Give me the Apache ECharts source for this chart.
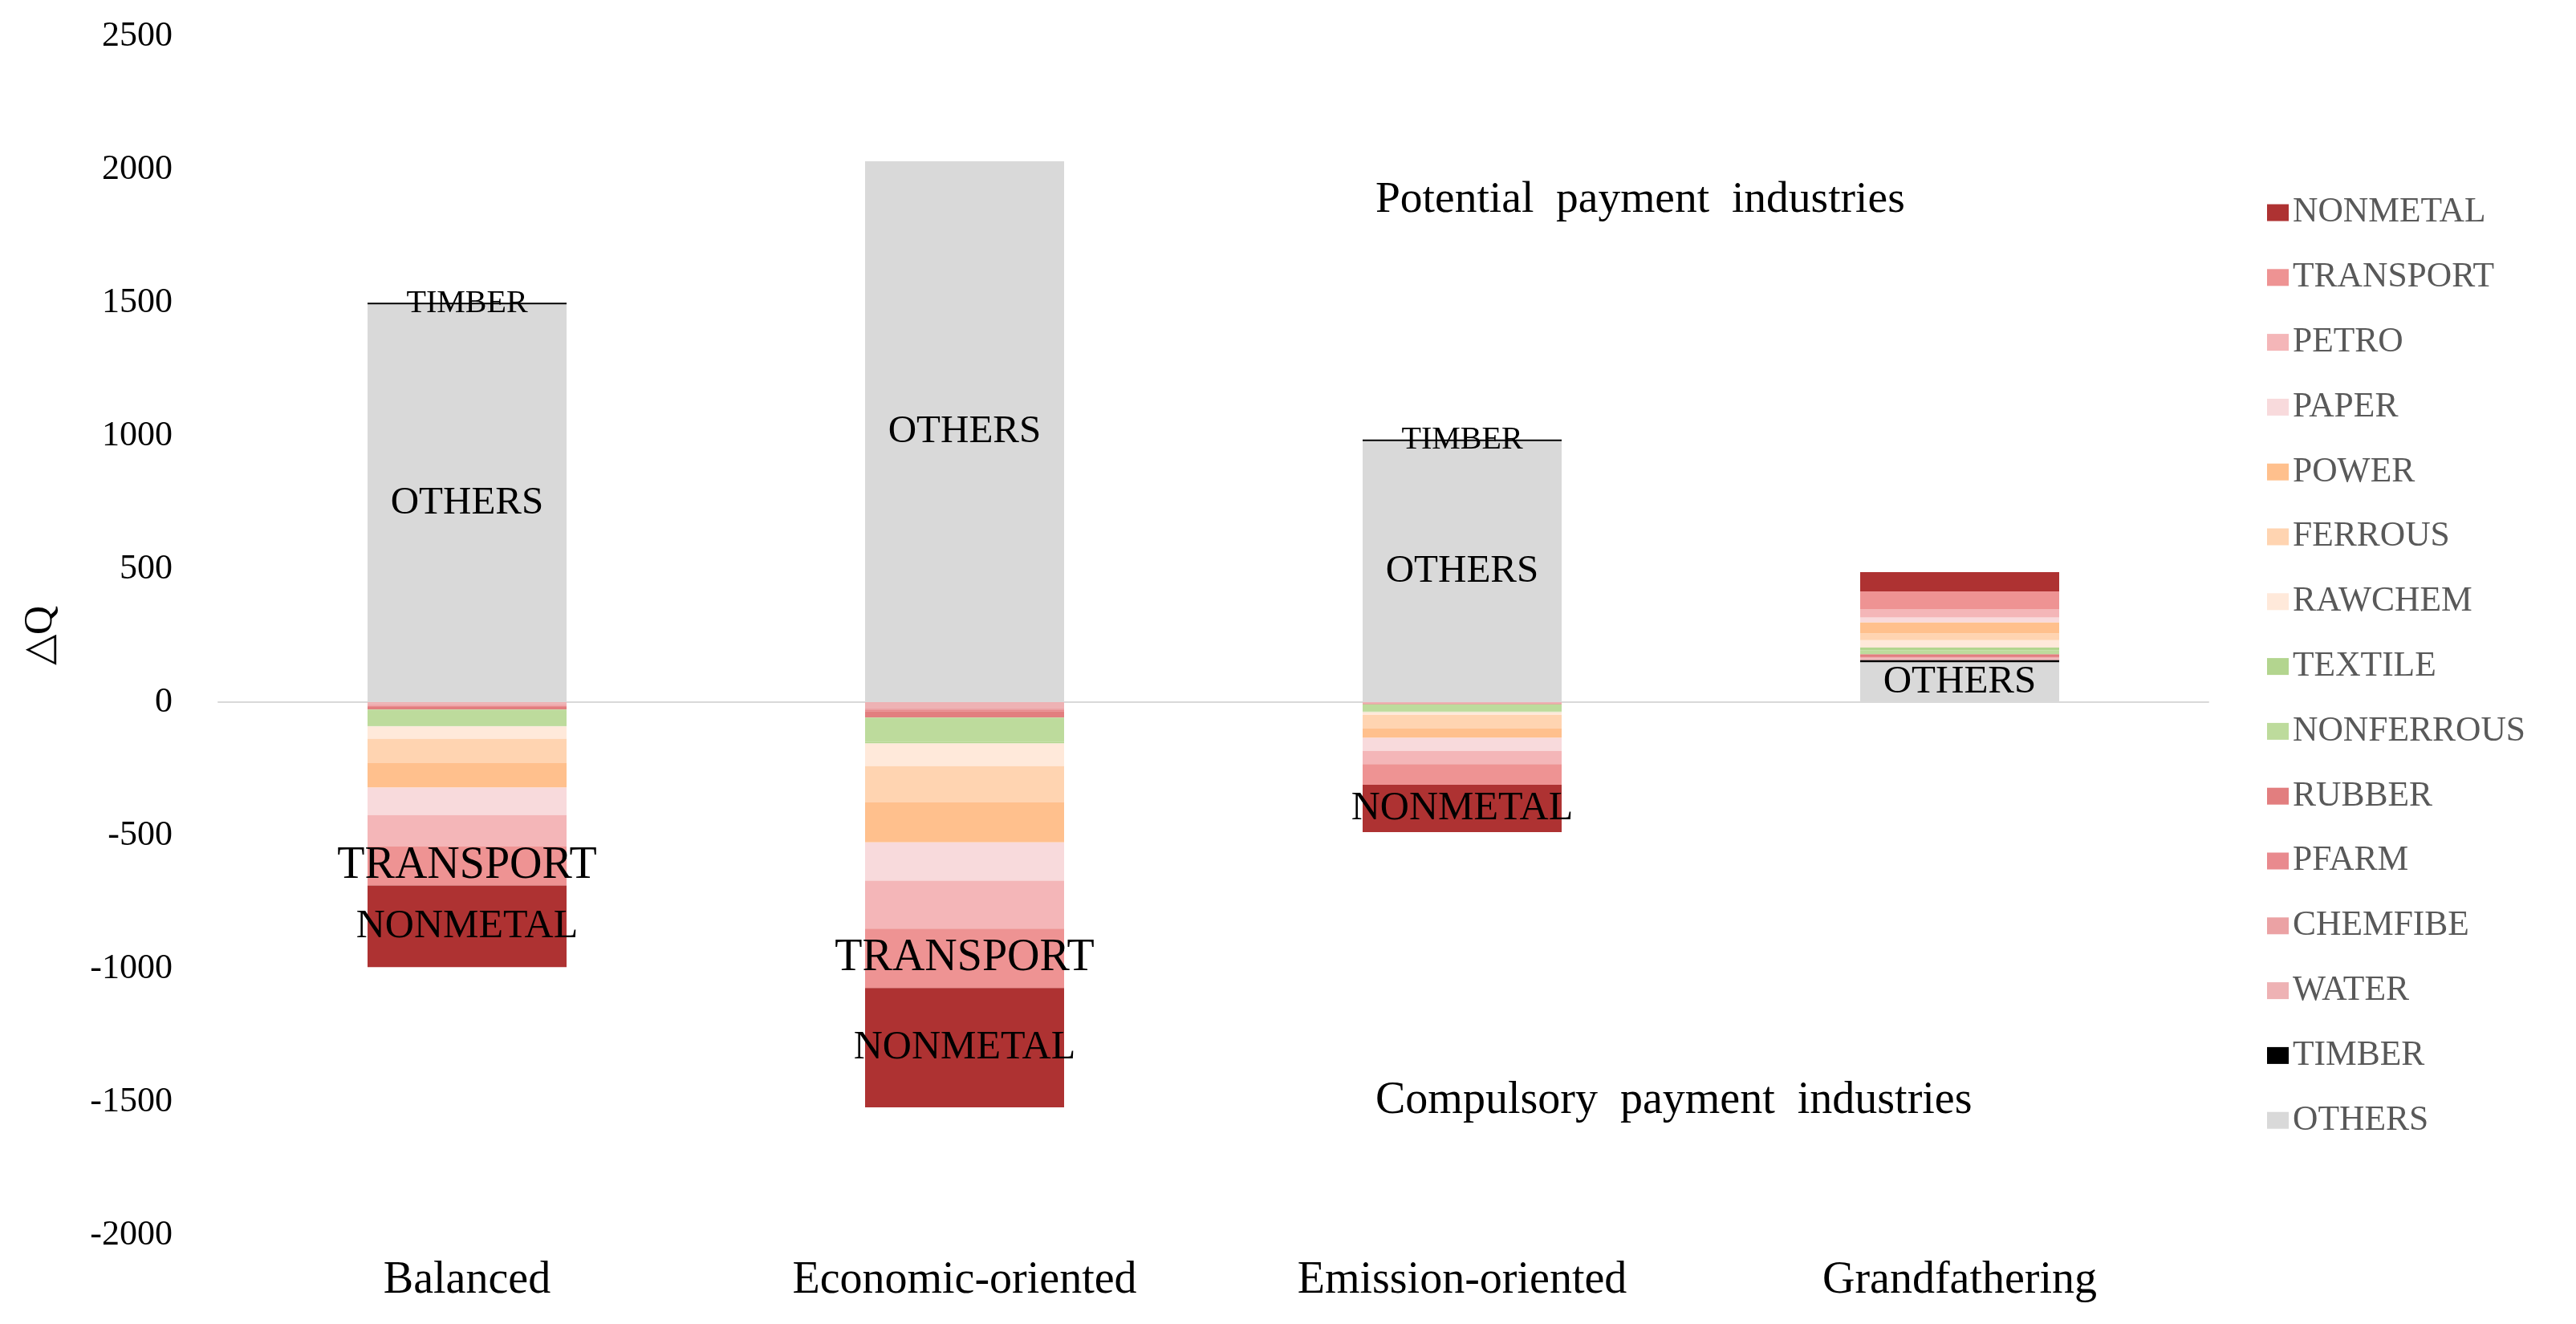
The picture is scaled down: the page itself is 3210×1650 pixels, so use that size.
<!DOCTYPE html>
<html>
<head>
<meta charset="utf-8">
<script src="https://cdn.jsdelivr.net/npm/echarts@6/dist/echarts.min.js"></script>
<style>
html,body{margin:0;padding:0;background:#fff;}
#chart{width:3210px;height:1650px;}
</style>
</head>
<body>
<div id="chart"></div>
<script>
// ---- data ----
var categories = ['Balanced', 'Economic-oriented', 'Emission-oriented', 'Grandfathering'];
var yTicks = { min: -2000, max: 2500, interval: 500 };

// stacking order (bottom/closest to zero first)
var OTHERS     = [1493, 2030, 980, 150];
var TIMBER     = [6, 0, 6, 8];
var WATER      = [-8, -22, -3, 6];
var CHEMFIBE   = [-6, -8, -2, 4];
var PFARM      = [-4, -4, -1, 4];
var RUBBER     = [-10, -24, -2, 8];
var NONFERROUS = [-60, -92, -27, 15];
var TEXTILE    = [-3, -5, -3, 10];
var RAWCHEM    = [-47, -85, -10, 28];
var FERROUS    = [-91, -135, -50, 25];
var POWER      = [-92, -151, -36, 42];
var PAPER      = [-103, -144, -49, 18];
var PETRO      = [-117, -180, -50, 30];
var TRANSPORT  = [-147, -223, -77, 68];
var NONMETAL   = [-307, -448, -178, 72];

var seriesNames = ['OTHERS','TIMBER','WATER','CHEMFIBE','PFARM','RUBBER','NONFERROUS','TEXTILE','RAWCHEM','FERROUS','POWER','PAPER','PETRO','TRANSPORT','NONMETAL'];
var seriesValues = [OTHERS,TIMBER,WATER,CHEMFIBE,PFARM,RUBBER,NONFERROUS,TEXTILE,RAWCHEM,FERROUS,POWER,PAPER,PETRO,TRANSPORT,NONMETAL];
var legendOrder = ['NONMETAL','TRANSPORT','PETRO','PAPER','POWER','FERROUS','RAWCHEM','TEXTILE','NONFERROUS','RUBBER','PFARM','CHEMFIBE','WATER','TIMBER','OTHERS'];

// which bars carry an in-bar name label
var labelFlags = {
  OTHERS:    [1,1,1,1],
  TIMBER:    [1,0,1,0],
  TRANSPORT: [1,1,0,0],
  NONMETAL:  [1,1,1,0]
};

var annotations = ['Potential  payment  industries', 'Compulsory  payment  industries'];

// ---- style ----
var colors = {
  NONMETAL:'#AE3232', TRANSPORT:'#EE9393', PETRO:'#F4B6B8', PAPER:'#F8DADC',
  POWER:'#FFC08D', FERROUS:'#FFD4B1', RAWCHEM:'#FFE9DA', TEXTILE:'#B3D58F',
  NONFERROUS:'#BDDB9C', RUBBER:'#E27E7F', PFARM:'#E98A8E', CHEMFIBE:'#EBA2A4',
  WATER:'#EEB2B4', TIMBER:'#000000', OTHERS:'#D9D9D9'
};
var labelSizes = { OTHERS:49, TIMBER:40, TRANSPORT:56, NONMETAL:50 };
var FONT = '"Liberation Serif", "Times New Roman", serif';

var series = seriesNames.map(function (name, si) {
  var flags = labelFlags[name];
  return {
    name: name,
    type: 'bar',
    stack: 'total',
    barWidth: '40%',
    itemStyle: { color: colors[name] },
    emphasis: { disabled: true },
    data: seriesValues[si].map(function (v, ci) {
      var item = { value: v };
      if (flags && flags[ci]) {
        item.label = {
          show: true, position: 'inside', formatter: '{a}',
          color: '#000', fontFamily: FONT, fontSize: labelSizes[name]
        };
      }
      return item;
    })
  };
});

var chart = echarts.init(document.getElementById('chart'));
chart.setOption({
  animation: false,
  backgroundColor: '#fff',
  grid: { left: 272, right: 458, top: 45, bottom: 111 },
  legend: {
    orient: 'vertical',
    left: 2820, top: 238,
    data: legendOrder,
    icon: 'rect',
    itemWidth: 27, itemHeight: 21,
    itemGap: 36.8,
    selectedMode: false,
    textStyle: { fontFamily: FONT, fontSize: 43.5, color: '#595959', lineHeight: 42 }
  },
  xAxis: [{
    type: 'category', data: categories,
    axisLine: { show: true, onZero: true, lineStyle: { color: '#D9D9D9', width: 2 } },
    axisTick: { show: false }, axisLabel: { show: false }
  }, {
    type: 'category', data: categories, position: 'bottom',
    axisLine: { show: false, onZero: false }, axisTick: { show: false },
    axisLabel: { margin: 29, fontFamily: FONT, fontSize: 56, color: '#000' }
  }],
  yAxis: {
    type: 'value', min: yTicks.min, max: yTicks.max, interval: yTicks.interval,
    name: '\u25B3Q', nameLocation: 'middle', nameGap: 196, nameRotate: 90,
    nameTextStyle: { fontFamily: FONT, fontSize: 50, color: '#000' },
    axisLine: { show: false }, axisTick: { show: false }, splitLine: { show: false },
    axisLabel: { margin: 57, fontFamily: FONT, fontSize: 44, color: '#000',
      formatter: function (v) { return String(v); } }
  },
  graphic: [
    { type: 'text', left: 1714, top: 221, silent: true,
      style: { text: annotations[0], fontFamily: FONT, fontSize: 55.5, fill: '#000' } },
    { type: 'text', left: 1714, top: 1344, silent: true,
      style: { text: annotations[1], fontFamily: FONT, fontSize: 56, fill: '#000' } }
  ],
  series: series
});
</script>
</body>
</html>
